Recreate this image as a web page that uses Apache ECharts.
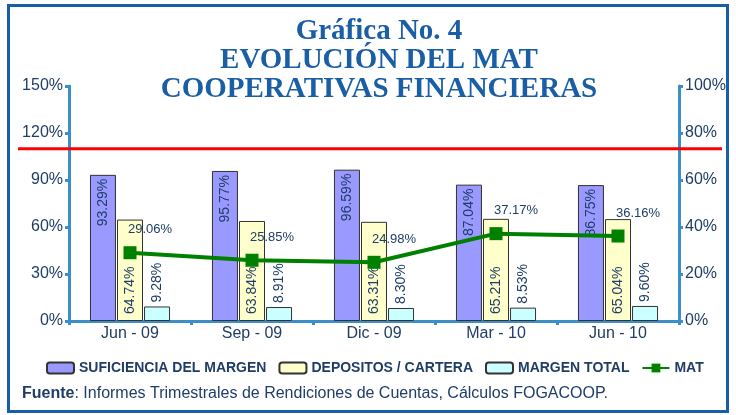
<!DOCTYPE html>
<html>
<head>
<meta charset="utf-8">
<script src="https://cdn.jsdelivr.net/npm/echarts@6/dist/echarts.min.js"></script>
<style>
  html, body { margin: 0; padding: 0; background: #fff; }
  #main { width: 736px; height: 415px; }
</style>
</head>
<body>
<div id="main"></div>
<script>
// datos de la grafica
var periodos = ['Jun - 09', 'Sep - 09', 'Dic - 09', 'Mar - 10', 'Jun - 10'];
var suficiencia = [93.29, 95.77, 96.59, 87.04, 86.75];
var depositos = [64.74, 63.84, 63.31, 65.21, 65.04];
var margenTotal = [9.28, 8.91, 8.30, 8.53, 9.60];
var mat = [29.06, 25.85, 24.98, 37.17, 36.16];
var limite = 110; // linea roja, eje izquierdo

var textColor = '#1f3d66';
var axisColor = '#3a8fc8';

var chart = echarts.init(document.getElementById('main'));

function pct(p) { return p.value.toFixed(2) + '%'; }

var option = {
    animation: false,
    title: [
        {
            text: 'Gráfica No. 4\nEVOLUCIÓN DEL MAT\nCOOPERATIVAS FINANCIERAS',
            left: 374,
            top: 12,
            textAlign: 'center',
            textStyle: {
                fontFamily: 'Liberation Serif',
                fontWeight: 'bold',
                fontSize: 29,
                lineHeight: 29,
                color: '#1a5ea6'
            }
        },
        {
            text: '{b|Fuente}: Informes Trimestrales de Rendiciones de Cuentas, Cálculos FOGACOOP.',
            left: 17,
            top: 381,
            textStyle: {
                fontFamily: 'Liberation Sans',
                fontSize: 16,
                fontWeight: 'normal',
                color: textColor,
                rich: {
                    b: { fontFamily: 'Liberation Sans', fontSize: 16, fontWeight: 'bold', color: textColor }
                }
            }
        }
    ],
    legend: {
        top: 356,
        left: 41,
        itemWidth: 27,
        itemHeight: 11,
        itemGap: 12,
        textStyle: {
            fontFamily: 'Liberation Sans',
            fontSize: 14,
            fontWeight: 'bold',
            color: textColor
        },
        data: ['SUFICIENCIA DEL MARGEN', 'DEPOSITOS / CARTERA', 'MARGEN TOTAL', 'MAT']
    },
    grid: { left: 69, right: 57, top: 86, bottom: 94 },
    xAxis: {
        type: 'category',
        data: periodos,
        axisLine: { lineStyle: { color: axisColor, width: 3 } },
        axisTick: { show: true, length: 4, lineStyle: { color: axisColor, width: 3 } },
        axisLabel: { color: textColor, fontFamily: 'Liberation Sans', fontSize: 16, margin: 5 }
    },
    yAxis: [
        {
            type: 'value',
            min: 0, max: 150, interval: 30,
            splitLine: { show: false },
            axisLine: { show: true, lineStyle: { color: axisColor, width: 3 } },
            axisTick: { show: true, length: 4, lineStyle: { color: axisColor, width: 3 } },
            axisLabel: { color: textColor, fontFamily: 'Liberation Sans', fontSize: 16, margin: 6, formatter: '{value}%' }
        },
        {
            type: 'value',
            min: 0, max: 100, interval: 20,
            splitLine: { show: false },
            axisLine: { show: true, lineStyle: { color: axisColor, width: 3 } },
            axisTick: { show: true, length: 4, lineStyle: { color: axisColor, width: 3 } },
            axisLabel: { color: textColor, fontFamily: 'Liberation Sans', fontSize: 16, margin: 6, formatter: '{value}%' }
        }
    ],
    series: [
        {
            name: 'SUFICIENCIA DEL MARGEN',
            type: 'bar',
            data: suficiencia,
            barWidth: 26,
            barGap: '4%',
            itemStyle: { color: '#9999ff', borderColor: '#333', borderWidth: 1 },
            label: {
                show: true, position: 'insideTop', rotate: 90, align: 'right', verticalAlign: 'middle',
                distance: 2, offset: [-2, 0], color: textColor, fontFamily: 'Liberation Sans', fontSize: 14, formatter: pct
            }
        },
        {
            name: 'DEPOSITOS / CARTERA',
            type: 'bar',
            data: depositos,
            barWidth: 26,
            barGap: '4%',
            itemStyle: { color: '#ffffcc', borderColor: '#333', borderWidth: 1 },
            label: {
                show: true, position: 'insideBottom', rotate: 90, align: 'left', verticalAlign: 'middle',
                distance: 7, color: textColor, fontFamily: 'Liberation Sans', fontSize: 14, formatter: pct
            }
        },
        {
            name: 'MARGEN TOTAL',
            type: 'bar',
            data: margenTotal,
            barWidth: 26,
            barGap: '4%',
            itemStyle: { color: '#ccffff', borderColor: '#333', borderWidth: 1 },
            label: {
                show: true, position: 'top', rotate: 90, align: 'left', verticalAlign: 'middle',
                distance: 4, color: textColor, fontFamily: 'Liberation Sans', fontSize: 14, formatter: pct
            }
        },
        {
            name: 'MAT',
            type: 'line',
            yAxisIndex: 1,
            data: mat,
            symbol: 'rect',
            symbolSize: 13,
            lineStyle: { color: '#008000', width: 4 },
            itemStyle: { color: '#008000' },
            label: {
                show: true, position: 'top', offset: [20, -5],
                color: textColor, fontFamily: 'Liberation Sans', fontSize: 13, formatter: pct
            },
            z: 5
        }
    ]
};

chart.setOption(option);

// marco y linea roja (la linea cruza todo el ancho)
var yLim = chart.convertToPixel({ yAxisIndex: 0 }, limite);
chart.setOption({
    graphic: [
        {
            type: 'rect',
            shape: { x: 8.5, y: 5.5, width: 719, height: 406 },
            style: { fill: 'none', stroke: '#1a5ea6', lineWidth: 3 },
            silent: true
        },
        {
            type: 'line',
            shape: { x1: 18, y1: yLim, x2: 722, y2: yLim },
            style: { stroke: '#ff0000', lineWidth: 3 },
            z: 10,
            silent: true
        }
    ]
});
</script>
</body>
</html>
